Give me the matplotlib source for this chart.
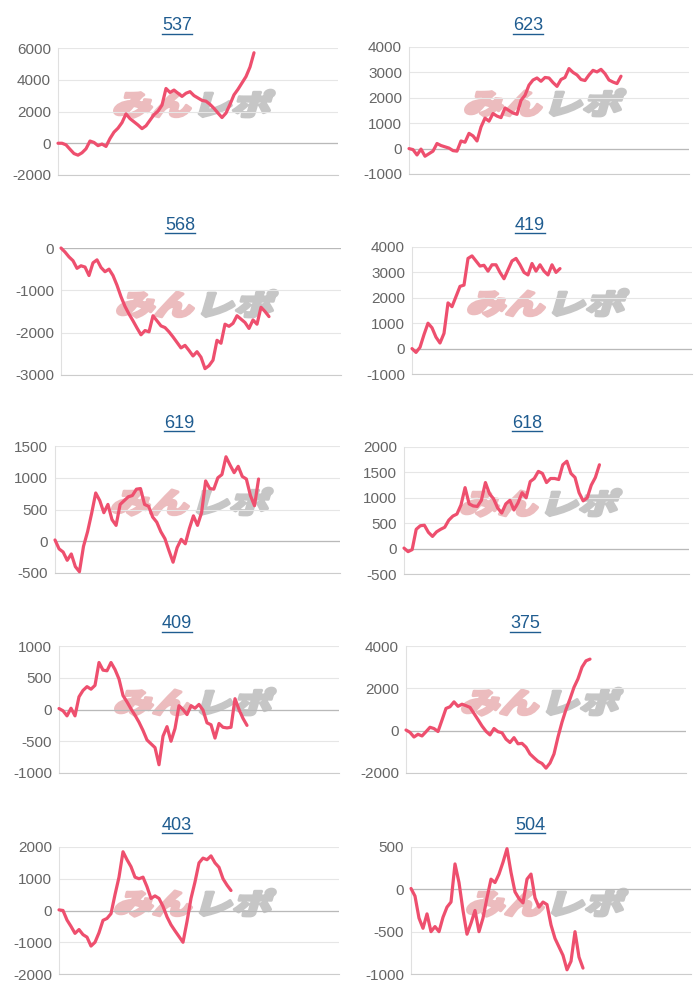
import matplotlib
matplotlib.use("Agg")
import matplotlib.pyplot as plt
import matplotlib.transforms as mtransforms
from matplotlib.textpath import TextPath
from matplotlib.font_manager import FontProperties
from matplotlib.patches import PathPatch
from matplotlib.lines import Line2D

plt.rcParams['font.family'] = ['Liberation Sans', 'DejaVu Sans']
plt.rcParams['axes.unicode_minus'] = False

# machine numbers shown above each chart
titles = ["537", "623", "568", "419", "619", "618", "409", "375", "403", "504"]

# running coin difference per machine, read at equal steps
s537 = [0, 0, -100, -380, -650, -750, -600, -350, 140, 50,
        -150, -50, -200, 300, 700, 950, 1300, 1850, 1550, 1350,
        1150, 920, 1100, 1450, 1800, 2020, 2400, 3450, 3200, 3350,
        3150, 2950, 3150, 3250, 3000, 2850, 2700, 2650, 2450, 2200,
        1900, 1620, 1900, 2450, 3050, 3400, 3800, 4200, 4800, 5700]
s623 = [0, -40, -250, -20, -300, -200, -100, 200, 120, 70,
        20, -80, -100, 300, 250, 600, 500, 300, 850, 1200,
        1080, 1380, 1280, 1220, 1600, 1500, 1400, 1350, 1900, 2100,
        2500, 2700, 2780, 2650, 2800, 2780, 2600, 2450, 2720, 2800,
        3150, 3000, 2900, 2720, 2680, 2900, 3080, 3020, 3120, 2950,
        2700, 2620, 2560, 2850]
s568 = [0, -95, -210, -300, -480, -420, -450, -650, -350, -280,
        -460, -560, -500, -650, -880, -1150, -1380, -1560, -1720, -1890,
        -2050, -1950, -1980, -1600, -1720, -1840, -1880, -1980, -2100, -2230,
        -2360, -2300, -2420, -2550, -2450, -2580, -2850, -2780, -2650, -2180,
        -2250, -1800, -1850, -1780, -1600, -1680, -1760, -1900, -1700, -1800,
        -1400, -1500, -1620]
s419 = [0, -150, 50, 550, 1000, 820, 450, 220, 600, 1800,
        1650, 2050, 2450, 2500, 3550, 3650, 3450, 3250, 3280, 3050,
        3300, 3300, 3000, 2750, 3100, 3450, 3550, 3300, 3000, 2900,
        3350, 3050, 3300, 3050, 2900, 3300, 3000, 3150]
s619 = [20, -120, -170, -300, -200, -400, -480, -80, 150, 440,
        760, 640, 450, 580, 340, 250, 580, 640, 700, 720,
        820, 830, 580, 550, 380, 300, 150, 40, -150, -330,
        -100, 30, -40, 200, 400, 250, 450, 950, 830, 820,
        1000, 1050, 1330, 1200, 1080, 1180, 1020, 980, 720, 560,
        980]
s618 = [10, -60, -20, 380, 450, 460, 320, 240, 330, 380,
        420, 560, 640, 680, 860, 1200, 880, 840, 830, 950,
        1300, 1080, 980, 800, 700, 880, 950, 760, 900, 1100,
        1000, 1320, 1380, 1520, 1480, 1300, 1380, 1380, 1360, 1650,
        1720, 1480, 1400, 1100, 940, 1000, 1250, 1400, 1650]
s409 = [15, -20, -100, 20, -100, 200, 300, 360, 320, 380,
        740, 620, 610, 740, 630, 480, 220, 120, 10, -90,
        -200, -330, -480, -540, -600, -870, -420, -270, -500, -300,
        60, 0, -80, 60, 20, 80, -10, -210, -240, -450,
        -220, -280, -290, -280, 170, 0, -140, -250]
s375 = [30, -80, -300, -170, -250, -50, 160, 100, -40, 500,
        1050, 1130, 1360, 1150, 1250, 1180, 1100, 810, 520, 220,
        -30, -200, 100, -50, -100, -400, -560, -330, -620, -600,
        -780, -1100, -1280, -1450, -1550, -1770, -1530, -1100, -300, 400,
        1000, 1500, 2050, 2450, 3000, 3300, 3380]
s403 = [20, 0, -300, -500, -720, -600, -760, -840, -1120, -1000,
        -700, -310, -250, -100, 500, 1050, 1850, 1600, 1380, 1050,
        1000, 1050, 750, 380, 460, 380, 130, -200, -450, -640,
        -820, -1000, -350, 380, 900, 1500, 1650, 1600, 1720, 1500,
        1360, 1000, 800, 630]
s504 = [10, -80, -340, -460, -290, -500, -440, -500, -330, -210,
        -150, 300, 80, -250, -530, -400, -250, -500, -340, -100,
        120, 80, 180, 320, 480, 200, -30, -110, -160, 120,
        180, -100, -210, -150, -180, -420, -580, -680, -780, -950,
        -850, -500, -800, -930]

series = [s537, s623, s568, s419, s619, s618, s409, s375, s403, s504]

y_ticks = [
    [-2000, 0, 2000, 4000, 6000],
    [-1000, 0, 1000, 2000, 3000, 4000],
    [-3000, -2000, -1000, 0],
    [-1000, 0, 1000, 2000, 3000, 4000],
    [-500, 0, 500, 1000, 1500],
    [-500, 0, 500, 1000, 1500, 2000],
    [-1000, -500, 0, 500, 1000],
    [-2000, 0, 2000, 4000],
    [-2000, -1000, 0, 1000, 2000],
    [-1000, -500, 0, 500],
]

X_STEPS = 70  # every x axis is this many sample steps wide

# plot areas in pixels: left, top, right, bottom
boxes = [(58, 48, 338, 175), (409, 47, 689, 174),
         (61, 248, 341, 375), (412, 247, 692, 374),
         (55, 446, 340, 573), (404, 447, 689, 574),
         (59, 646, 339, 773), (406, 646, 686, 773),
         (59, 847, 339, 974), (411, 847, 691, 974)]
title_pos = [(177, 26), (528, 26), (180, 225), (530, 225), (179, 424),
             (527, 424), (177, 624), (525, 624), (177, 825), (530, 825)]

W, H = 700, 1000
LINE_COLOR = '#ee4f6e'
TITLE_COLOR = '#1f5c90'

# watermark glyphs
wm_font = FontProperties(family='Noto Sans CJK JP', weight='black')
wm_left = TextPath((0, 0), "みん", size=1, prop=wm_font)
wm_right = TextPath((wm_left.get_extents().x1 + 0.08, 0), "レポ", size=1, prop=wm_font)
e1, e2 = wm_left.get_extents(), wm_right.get_extents()
wx0, wy0 = min(e1.x0, e2.x0), min(e1.y0, e2.y0)
wx1, wy1 = max(e1.x1, e2.x1), max(e1.y1, e2.y1)


def add_watermark(ax):
    sx = 155 / (wx1 - wx0)
    sy = 27 / (wy1 - wy0)
    tr = (mtransforms.Affine2D().translate(-wx0, -wy0).scale(sx, sy).skew_deg(16, 0)
          + mtransforms.ScaledTranslation(0.195, 0.455, ax.transAxes))
    for path, color in ((wm_left, '#ecbcbe'), (wm_right, '#c6c6c6')):
        ax.add_patch(PathPatch(path, transform=tr, facecolor=color, edgecolor=color,
                               lw=2.2, joinstyle='round', zorder=0.2, clip_on=False))


fig = plt.figure(figsize=(W / 100, H / 100), dpi=100)

title_texts = []
for i, vals in enumerate(series):
    l, t, r, b = boxes[i]
    ax = fig.add_axes([l / W, 1 - b / H, (r - l) / W, (b - t) / H])
    ticks = y_ticks[i]

    ax.plot(range(len(vals)), vals, color=LINE_COLOR, lw=2.3,
            solid_joinstyle='round', solid_capstyle='round', zorder=3, clip_on=False)

    ax.set_xlim(0, X_STEPS)
    ax.set_ylim(ticks[0], ticks[-1])
    ax.set_yticks(ticks)
    ax.set_xticks([])
    ax.set_axisbelow(True)
    ax.yaxis.grid(True, color='#e6e6e6', lw=0.8)
    ax.axhline(0, color='#b9b9b9', lw=0.9, zorder=1)
    ax.tick_params(axis='y', length=0, pad=5, labelcolor='#666666', labelsize=11)
    for side in ('top', 'right'):
        ax.spines[side].set_visible(False)
    ax.spines['left'].set_color('#e0e0e0')
    ax.spines['bottom'].set_color('#cccccc')
    ax.spines['left'].set_linewidth(0.8)
    ax.spines['bottom'].set_linewidth(0.8)

    add_watermark(ax)

    tx, ty = title_pos[i]
    txt = fig.text(tx / W, 1 - ty / H, titles[i], ha='center', va='center',
                   color=TITLE_COLOR, fontsize=13)
    title_texts.append(txt)

# underline the titles like links
fig.canvas.draw()
renderer = fig.canvas.get_renderer()
for txt in title_texts:
    bb = txt.get_window_extent(renderer)
    y = bb.y0 + 1
    fig.add_artist(Line2D([bb.x0 / W, bb.x1 / W], [y / H, y / H],
                          transform=fig.transFigure, color=TITLE_COLOR, lw=1.0))

fig.savefig("out.png", dpi=100)
